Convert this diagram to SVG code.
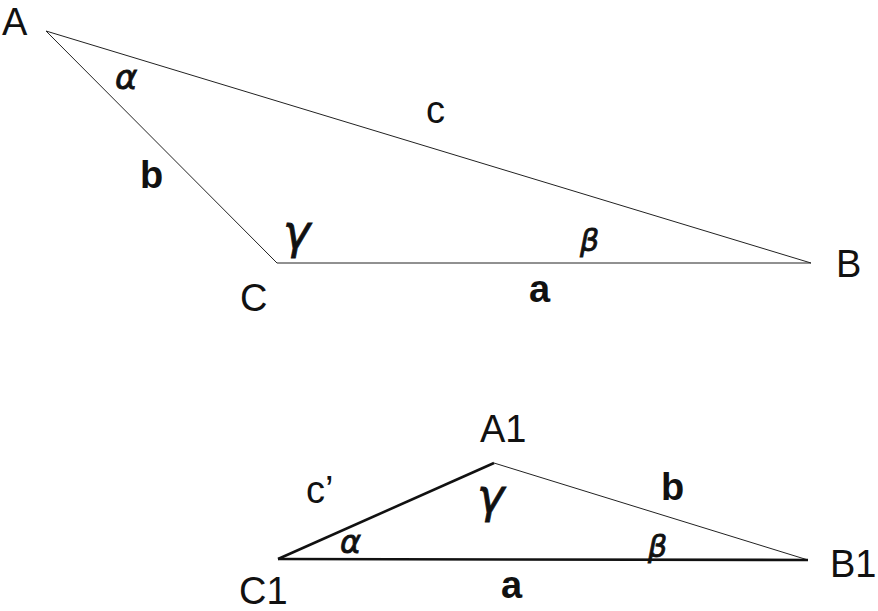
<svg xmlns="http://www.w3.org/2000/svg" width="878" height="611" viewBox="0 0 878 611">
<style>
.lbl{font-family:"Liberation Sans",Arial,sans-serif;font-size:38px;fill:#111}
.bold{font-weight:bold}
.gr{font-family:"DejaVu Sans","Liberation Sans",sans-serif;font-style:italic;fill:#111;stroke:#111;stroke-width:0.8}
.thin{stroke:#222;stroke-width:1;fill:none}
.thick{stroke:#111;stroke-width:2.6;fill:none}
</style>
<rect width="878" height="611" fill="#fff"/>
<g id="triangle-ABC">
  <g id="connectors-top">
    <line class="thin" x1="46" y1="31" x2="277" y2="263"/>
    <line class="thin" x1="46" y1="31" x2="811" y2="263"/>
    <line class="thin" x1="277" y1="263" x2="811" y2="263"/>
  </g>
  <g id="label-A"><text class="lbl" x="2" y="35">A</text></g>
  <g id="label-B"><text class="lbl" x="836" y="277">B</text></g>
  <g id="label-C"><text class="lbl" x="240" y="311">C</text></g>
  <g id="side-c"><text class="lbl" x="426" y="123">c</text></g>
  <g id="side-b"><text class="lbl bold" x="140" y="188">b</text></g>
  <g id="side-a"><text class="lbl bold" x="529" y="302">a</text></g>
  <g id="angle-alpha"><text class="gr" x="115" y="89" font-size="34">α</text></g>
  <g id="angle-gamma"><text class="gr" x="283" y="248" font-size="46">γ</text></g>
  <g id="angle-beta"><text class="gr" x="580" y="251" font-size="30">β</text></g>
</g>
<g id="triangle-A1B1C1">
  <g id="connectors-bottom">
    <line class="thick" x1="278" y1="559" x2="494" y2="463"/>
    <line class="thin" x1="494" y1="463" x2="808" y2="560"/>
    <line class="thick" x1="278" y1="559" x2="808" y2="560"/>
  </g>
  <g id="label-A1"><text class="lbl" x="480" y="442">A1</text></g>
  <g id="label-B1"><text class="lbl" x="830" y="577">B1</text></g>
  <g id="label-C1"><text class="lbl" x="239" y="604">C1</text></g>
  <g id="side-c-prime"><text class="lbl" x="306" y="503" font-size="34">c’</text></g>
  <g id="side-b1"><text class="lbl bold" x="661" y="500">b</text></g>
  <g id="side-a1"><text class="lbl bold" x="501" y="598">a</text></g>
  <g id="angle-alpha1"><text class="gr" x="340" y="553" font-size="32">α</text></g>
  <g id="angle-gamma1"><text class="gr" x="477" y="512" font-size="46">γ</text></g>
  <g id="angle-beta1"><text class="gr" x="648" y="557" font-size="30">β</text></g>
</g>
</svg>
